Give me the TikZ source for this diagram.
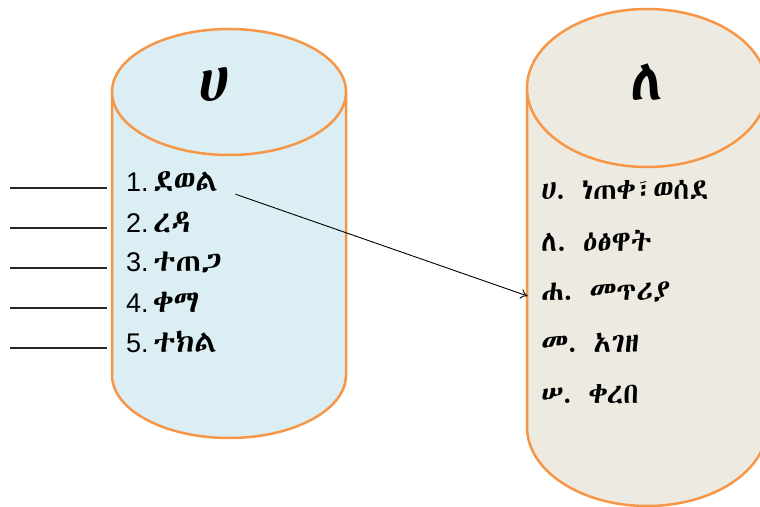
\documentclass[tikz,border=0pt]{standalone}
\usepackage{fontspec}
\setmainfont{Liberation Sans}
\newfontfamily\eth{Abyssinica SIL}
\usetikzlibrary{arrows.meta,positioning}
\definecolor{drumorange}{HTML}{F79646}
\definecolor{drumblue}{HTML}{DAEEF3}
\definecolor{drumsand}{HTML}{EDEBE1}
\newcommand{\ethbig}[1]{{\eth\fontsize{31}{34}\selectfont\bfseries #1}}
\tikzset{
  drumline/.style={draw=drumorange, line width=2.5pt},
  drumtitle/.style={font=\eth\fontsize{58}{62}\selectfont\bfseries},
  leftitem/.style={anchor=west, inner sep=2pt, font=\fontsize{27}{30}\selectfont},
  rightitem/.style={anchor=west, inner sep=2pt, font=\eth\fontsize{29}{32}\selectfont\bfseries},
  blankline/.style={line width=1.6pt, draw=black!85},
  matcharrow/.style={-{To[length=7pt,width=10pt]}, line width=0.9pt}
}

\begin{document}
\begin{tikzpicture}[x=1pt, y=1pt]
  \useasboundingbox (0,0) rectangle (760,506);
  \clip (0,0) rectangle (760,506);

  % left drum
  \path[drumline, fill=drumblue] (112,414) -- (112,131)
    arc[start angle=180, end angle=360, x radius=117, y radius=63] -- (346,414);
  \filldraw[drumline, fill=drumblue] (229,414) ellipse [x radius=117, y radius=63];
  % right drum
  \path[drumline, fill=drumsand] (527,418) -- (527,79)
    arc[start angle=180, end angle=360, x radius=120, y radius=79] -- (767,418);
  \filldraw[drumline, fill=drumsand] (647,418) ellipse [x radius=120, y radius=79];

  \node[drumtitle] (ha) at (214,421) {ሀ};
  \node[drumtitle] (le) at (647,424) {ለ};

  \node[leftitem] (l1) at (124,324) {1.\,\ethbig{ደወል}};
  \node[leftitem] (l2) at (124,284) {2.\,\ethbig{ረዳ}};
  \node[leftitem] (l3) at (124,244) {3.\,\ethbig{ተጠጋ}};
  \node[leftitem] (l4) at (124,204) {4.\,\ethbig{ቀማ}};
  \node[leftitem] (l5) at (124,164) {5.\,\ethbig{ተክል}};

  \node[rightitem] (r1) at (539,316) {ሀ.\hspace{16pt}ነጠቀ፣ወሰደ};
  \node[rightitem] (r2) at (539,265) {ለ.\hspace{16pt}ዕፅዋት};
  \node[rightitem] (r3) at (539,214) {ሐ.\hspace{16pt}መጥሪያ};
  \node[rightitem] (r4) at (539,163) {መ.\hspace{16pt}አገዘ};
  \node[rightitem] (r5) at (539,112) {ሠ.\hspace{16pt}ቀረበ};

  % answer blanks
  \foreach \i/\y in {1/318,2/278,3/238,4/198,5/158}
    \draw[blankline] (10,\y) -- ([xshift=-17pt]l\i.west |- 0,\y);

  \draw[matcharrow, shorten <=16pt, shorten >=12pt]
    ([yshift=-7pt]l1.east) -- ([yshift=-8pt]r3.west);
\end{tikzpicture}
\end{document}
